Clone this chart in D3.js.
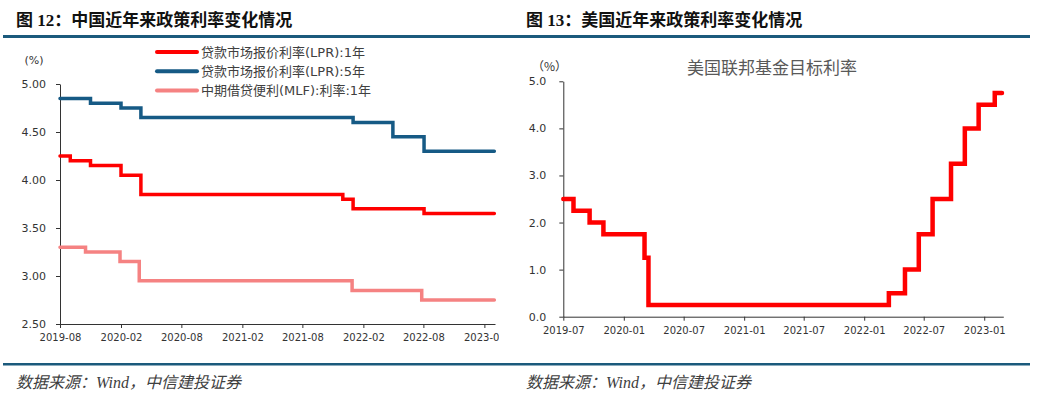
<!DOCTYPE html>
<html>
<head>
<meta charset="utf-8">
<script src="https://cdn.jsdelivr.net/npm/d3@7"></script>
<style>
  body { margin: 0; background: #fff; }
  svg { display: block; }
  .tick text { font-family: "DejaVu Sans", sans-serif; fill: #333; }
  .domain, .tick line { stroke: #333; }
</style>
</head>
<body>
<div id="chart"></div>
<script>
// ---- data ----
// China policy rates (step changes, last point = end of series)
const lpr1Dates = ['2019-08-20', '2019-09-20', '2019-11-20', '2020-02-20', '2020-04-20', '2021-12-20', '2022-01-20', '2022-08-22', '2023-03-22'];
const lpr1Values = [4.25, 4.20, 4.15, 4.05, 3.85, 3.80, 3.70, 3.65, 3.65];
const lpr5Dates = ['2019-08-20', '2019-11-20', '2020-02-20', '2020-04-20', '2022-01-20', '2022-05-20', '2022-08-22', '2023-03-22'];
const lpr5Values = [4.85, 4.80, 4.75, 4.65, 4.60, 4.45, 4.30, 4.30];
const mlfDates = ['2019-08-20', '2019-11-05', '2020-02-17', '2020-04-15', '2022-01-17', '2022-08-15', '2023-03-22'];
const mlfValues = [3.30, 3.25, 3.15, 2.95, 2.85, 2.75, 2.75];
const cnSeriesNames = ['贷款市场报价利率(LPR):1年', '贷款市场报价利率(LPR):5年', '中期借贷便利(MLF):利率:1年'];
const cnYTicks = [2.5, 3.0, 3.5, 4.0, 4.5, 5.0];

// US fed funds target (upper bound)
const fedDates = ['2019-07-01', '2019-08-01', '2019-09-19', '2019-10-31', '2020-03-04', '2020-03-16', '2022-03-17', '2022-05-05', '2022-06-16', '2022-07-28', '2022-09-22', '2022-11-03', '2022-12-15', '2023-02-02', '2023-02-24'];
const fedValues = [2.50, 2.25, 2.00, 1.75, 1.25, 0.25, 0.50, 1.00, 1.75, 2.50, 3.25, 4.00, 4.50, 4.75, 4.75];
const usYTicks = [0, 1, 2, 3, 4, 5];

const titles = ['图 12：中国近年来政策利率变化情况', '图 13：美国近年来政策利率变化情况'];
const sourceText = '数据来源：Wind，中信建投证券';

const parse = d3.timeParse('%Y-%m-%d');
const fmtMonth = d3.timeFormat('%Y-%m');
const zip = (ds, vs) => ds.map((d, i) => ({date: parse(d), value: vs[i]}));

const svg = d3.select('#chart').append('svg')
    .attr('width', 1037)
    .attr('height', 399);

const ruleColor = '#1b5a7c';

// rules + titles + source
svg.append('rect').attr('x', 3).attr('y', 35).attr('width', 1027).attr('height', 3).attr('fill', ruleColor);
svg.append('rect').attr('x', 3).attr('y', 363).attr('width', 1027).attr('height', 2.5).attr('fill', ruleColor);

[16, 526].forEach((x, i) => {
  svg.append('text')
      .attr('x', x).attr('y', 26)
      .style('font-family', '"Liberation Serif", "Noto Sans CJK SC", serif')
      .style('font-weight', 'bold')
      .style('font-size', '17px')
      .attr('fill', '#111')
      .text(titles[i]);
  svg.append('text')
      .attr('x', x).attr('y', 388)
      .style('font-family', '"Liberation Serif", "Noto Sans CJK SC", serif')
      .style('font-style', 'italic')
      .style('font-size', '16px')
      .attr('fill', '#404040')
      .text(sourceText);
});

// six-monthly tick dates starting at the axis origin
function sixMonthTicks(start, end) {
  const out = [];
  for (let d = start; d <= end; d = d3.timeMonth.offset(d, 6)) out.push(d);
  return out;
}

// ---------- left: China ----------
const cn = svg.append('g');
svg.append('clipPath').attr('id', 'clip-left')
  .append('rect').attr('x', 0).attr('y', 40).attr('width', 499).attr('height', 320);
cn.attr('clip-path', 'url(#clip-left)');

const cnX = d3.scaleTime()
    .domain([parse('2019-08-20'), parse('2023-03-24')])
    .range([60, 495]);
const cnY = d3.scaleLinear().domain([2.5, 5.0]).range([324, 84]);

cn.append('g')
    .attr('transform', 'translate(60,0)')
    .call(d3.axisLeft(cnY).tickValues(cnYTicks).tickFormat(d3.format('.2f')).tickSize(4).tickPadding(10).tickSizeOuter(0))
    .call(g => g.selectAll('text').style('font-size', '11px'));

cn.append('g')
    .attr('transform', 'translate(0,324)')
    .call(d3.axisBottom(cnX).tickValues(sixMonthTicks(cnX.domain()[0], cnX.domain()[1])).tickFormat(fmtMonth).tickSize(4).tickPadding(6).tickSizeOuter(0))
    .call(g => g.selectAll('text').style('font-size', '10px'));

cn.append('text')
    .attr('x', 34).attr('y', 60).attr('dy', '0.35em').attr('text-anchor', 'middle')
    .style('font-family', '"DejaVu Sans", sans-serif').style('font-size', '11px')
    .attr('fill', '#333').text('(%)');

const cnColors = ['#ff0000', '#165a85', '#f58282'];
const cnSeries = [zip(lpr1Dates, lpr1Values), zip(lpr5Dates, lpr5Values), zip(mlfDates, mlfValues)];

const cnLine = d3.line()
    .x(d => cnX(d.date))
    .y(d => cnY(d.value))
    .curve(d3.curveStepAfter);

cn.selectAll('.cn-line')
    .data(cnSeries)
  .join('path')
    .attr('class', 'cn-line')
    .attr('d', cnLine)
    .attr('fill', 'none')
    .attr('stroke', (d, i) => cnColors[i])
    .attr('stroke-width', 3.5)
    .attr('stroke-linecap', 'round');

// legend
const legend = cn.append('g').attr('transform', 'translate(157,52)');
legend.selectAll('line')
    .data(cnSeriesNames)
  .join('line')
    .attr('x1', 0).attr('x2', 40)
    .attr('y1', (d, i) => i * 19.3).attr('y2', (d, i) => i * 19.3)
    .attr('stroke', (d, i) => cnColors[i])
    .attr('stroke-width', 4)
    .attr('stroke-linecap', 'round');
legend.selectAll('text')
    .data(cnSeriesNames)
  .join('text')
    .attr('x', 44).attr('y', (d, i) => i * 19.3).attr('dy', '0.35em')
    .style('font-family', '"DejaVu Sans", "Noto Sans CJK SC", sans-serif')
    .style('font-size', '13px')
    .attr('fill', '#404040')
    .text(d => d);

// ---------- right: US ----------
const us = svg.append('g');

const usX = d3.scaleTime()
    .domain([parse('2019-07-01'), parse('2023-02-28')])
    .range([563.3, 1003.3]);
const usY = d3.scaleLinear().domain([0, 5]).range([316.7, 81.3]);

us.append('g')
    .attr('transform', 'translate(563.3,0)')
    .call(d3.axisLeft(usY).tickValues(usYTicks).tickFormat(d3.format('.1f')).tickSize(4).tickPadding(13).tickSizeOuter(0))
    .call(g => g.selectAll('text').style('font-size', '11px'));

us.append('g')
    .attr('transform', 'translate(0,316.7)')
    .call(d3.axisBottom(usX).tickValues(sixMonthTicks(usX.domain()[0], usX.domain()[1])).tickFormat(fmtMonth).tickSize(4).tickPadding(6).tickSizeOuter(0))
    .call(g => g.selectAll('text').style('font-size', '10px'));

us.append('text')
    .attr('x', 532).attr('y', 67).attr('dy', '0.35em')
    .style('font-family', '"Noto Sans CJK SC", sans-serif').style('font-size', '12px')
    .attr('fill', '#333').text('（%）');

us.append('text')
    .attr('x', 772).attr('y', 68).attr('dy', '0.35em').attr('text-anchor', 'middle')
    .style('font-family', '"Noto Sans CJK SC", sans-serif').style('font-size', '17px')
    .attr('fill', '#595959').text('美国联邦基金目标利率');

const usLine = d3.line()
    .x(d => usX(d.date))
    .y(d => usY(d.value))
    .curve(d3.curveStepAfter);

us.append('path')
    .datum(zip(fedDates, fedValues))
    .attr('d', usLine)
    .attr('fill', 'none')
    .attr('stroke', '#ff0000')
    .attr('stroke-width', 4.5)
    .attr('stroke-linecap', 'round');
</script>
</body>
</html>
